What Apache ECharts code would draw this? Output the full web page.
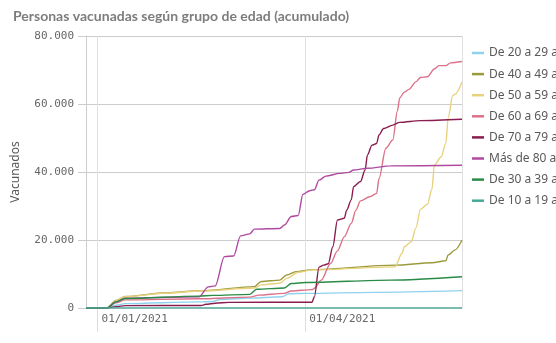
<!DOCTYPE html>
<html>
<head>
<meta charset="utf-8">
<script src="https://cdn.jsdelivr.net/npm/echarts@6/dist/echarts.min.js"></script>
<style>
html,body{margin:0;padding:0;background:#fff;}
#chart{width:556px;height:343px;}
</style>
</head>
<body>
<div id="chart"></div>
<script>
const titleText = 'Personas vacunadas según grupo de edad (acumulado)';
const yAxisName = 'Vacunados';
const categories = ['De 20 a 29 años','De 40 a 49 años','De 50 a 59 años','De 60 a 69 años','De 70 a 79 años','Más de 80 años','De 30 a 39 años','De 10 a 19 años'];
const colors = ['#8fd2ee','#9b9a3b','#e8d27e','#dc7289','#8a1d4f','#b04aa0','#298b46','#47a997'];

const edad20_29 = [['2020-12-27',0],['2021-01-05',0],['2021-01-09',800],['2021-01-13',1300],['2021-02-14',1800],['2021-02-20',1900],['2021-02-23',2500],['2021-03-08',2900],['2021-03-22',3300],['2021-03-25',4200],['2021-04-01',4300],['2021-05-01',4600],['2021-06-08',5100]];
const edad40_49 = [['2020-12-27',0],['2021-01-05',0],['2021-01-09',2200],['2021-01-13',3400],['2021-01-31',4500],['2021-02-15',5100],['2021-03-10',6300],['2021-03-13',7800],['2021-03-21',8200],['2021-03-24',9700],['2021-03-28',10700],['2021-04-04',11300],['2021-05-10',12600],['2021-05-26',13300],['2021-06-01',13900],['2021-06-02',15600],['2021-06-05',17100],['2021-06-08',20000]];
const edad50_59 = [['2020-12-27',0],['2021-01-05',0],['2021-01-09',2100],['2021-01-13',3300],['2021-01-31',4400],['2021-02-15',5000],['2021-03-10',5900],['2021-03-13',6800],['2021-03-21',7300],['2021-03-24',8700],['2021-03-29',10500],['2021-04-04',11200],['2021-05-10',12100],['2021-05-13',16100],['2021-05-14',18000],['2021-05-17',19500],['2021-05-19',23500],['2021-05-21',29000],['2021-05-24',30500],['2021-05-26',35000],['2021-05-27',42000],['2021-05-30',44500],['2021-06-01',48500],['2021-06-02',56000],['2021-06-04',62500],['2021-06-05',62900],['2021-06-08',66500]];
const edad60_69 = [['2020-12-27',0],['2021-01-05',0],['2021-01-09',1500],['2021-01-13',2400],['2021-02-14',2700],['2021-03-08',3200],['2021-03-12',3800],['2021-03-23',4300],['2021-03-26',5000],['2021-04-04',5400],['2021-04-05',5800],['2021-04-08',8200],['2021-04-12',13100],['2021-04-15',16800],['2021-04-18',21000],['2021-04-21',24900],['2021-04-23',28800],['2021-04-25',31500],['2021-04-29',32700],['2021-05-02',33700],['2021-05-03',38000],['2021-05-06',47000],['2021-05-09',49400],['2021-05-11',58000],['2021-05-12',61800],['2021-05-14',63500],['2021-05-16',64300],['2021-05-19',66500],['2021-05-21',67800],['2021-05-24',68000],['2021-05-27',70300],['2021-05-29',71300],['2021-06-01',71300],['2021-06-03',72100],['2021-06-08',72500]];
const edad70_79 = [['2020-12-27',0],['2021-01-05',0],['2021-01-09',400],['2021-01-13',700],['2021-02-15',750],['2021-02-17',1100],['2021-02-21',1400],['2021-02-27',1650],['2021-04-04',1700],['2021-04-05',3300],['2021-04-07',12000],['2021-04-09',12600],['2021-04-11',13000],['2021-04-13',18000],['2021-04-15',25900],['2021-04-18',26400],['2021-04-19',28800],['2021-04-21',31800],['2021-04-22',35700],['2021-04-25',37200],['2021-04-27',40600],['2021-04-28',45000],['2021-04-30',47900],['2021-05-02',48400],['2021-05-03',50900],['2021-05-05',52800],['2021-05-09',53800],['2021-05-12',54600],['2021-05-21',55100],['2021-06-08',55500]];
const edad80mas = [['2020-12-27',0],['2021-01-05',0],['2021-01-09',1800],['2021-01-13',2900],['2021-02-14',3300],['2021-02-18',6200],['2021-02-21',6500],['2021-02-25',15100],['2021-03-01',15300],['2021-03-04',21200],['2021-03-08',21800],['2021-03-10',23200],['2021-03-21',23400],['2021-03-23',24400],['2021-03-26',26900],['2021-03-29',27200],['2021-03-31',33400],['2021-04-03',34500],['2021-04-05',34800],['2021-04-07',37600],['2021-04-10',38800],['2021-04-16',39600],['2021-04-20',39900],['2021-04-22',40600],['2021-04-28',41100],['2021-05-08',41800],['2021-06-08',42000]];
const edad30_39 = [['2020-12-27',0],['2021-01-05',0],['2021-01-09',1800],['2021-01-13',2800],['2021-02-14',3500],['2021-02-20',3700],['2021-03-08',4000],['2021-03-11',5500],['2021-03-23',5900],['2021-03-26',7200],['2021-04-01',7500],['2021-05-08',8200],['2021-06-08',9200]];
const edad10_19 = [['2020-12-27',0],['2021-06-08',0]];

const seriesData = [edad20_29, edad40_49, edad50_59, edad60_69, edad70_79, edad80mas, edad30_39, edad10_19];
const xMin = '2020-12-27';
const xMax = '2021-06-08';
const yMax = 80000;
const yStep = 20000;
const DAY = 86400000;

const chart = echarts.init(document.getElementById('chart'), null, {renderer: 'canvas'});
const mono = 'DejaVu Sans Mono';
function pad(n){return (n<10?'0':'')+n;}
chart.setOption({
  animation: false,
  backgroundColor: '#fff',
  title: {
    text: titleText, left: 8, top: 4,
    textStyle: {fontFamily: 'Lato', fontSize: 14, fontWeight: 'bold', color: '#7d7d7d'}
  },
  legend: {
    orient: 'vertical', left: 467, top: 41,
    icon: 'rect', itemWidth: 12, itemHeight: 2.5, itemGap: 7.1, itemTextGap: 11,
    textStyle: {fontFamily: 'Noto Sans', fontSize: 12, color: '#595959', lineHeight: 14},
    data: categories
  },
  grid: {left: 86, right: 94, top: 36, bottom: 35, containLabel: false},
  xAxis: {
    type: 'time', min: xMin, max: xMax, splitNumber: 2, minInterval: 95 * DAY,
    axisLine: {show: true, lineStyle: {color: '#cccccc'}},
    axisTick: {show: true, length: 24, lineStyle: {color: '#dddddd'}},
    splitLine: {show: true, lineStyle: {color: '#e0e0e0'}},
    minorTick: {show: false},
    axisLabel: {
      align: 'left', margin: 6, padding: [0,0,0,4],
      fontFamily: mono, fontSize: 11, color: '#666',
      showMinLabel: false, showMaxLabel: false,
      formatter: function (v) { const d = new Date(v); return pad(d.getDate()) + '/' + pad(d.getMonth()+1) + '/' + d.getFullYear(); }
    }
  },
  yAxis: {
    type: 'value', min: 0, max: yMax, interval: yStep,
    name: yAxisName, nameLocation: 'middle', nameGap: 64,
    nameTextStyle: {fontFamily: 'Noto Sans', fontSize: 12, color: '#595959'},
    axisLine: {show: true, lineStyle: {color: '#cccccc'}},
    axisTick: {show: true, length: 8, lineStyle: {color: '#cccccc'}},
    splitLine: {show: true, lineStyle: {color: '#cccccc'}},
    axisLabel: {
      margin: 12, fontFamily: mono, fontSize: 11, color: '#666',
      formatter: function (v) { return String(v).replace(/\B(?=(\d{3})+(?!\d))/g, '.'); }
    }
  },
  series: categories.map(function (name, i) {
    return {
      name: name, type: 'line', data: seriesData[i], showSymbol: false, symbol: 'none',
      smooth: 0.3, smoothMonotone: 'x',
      lineStyle: {width: 1.4, color: colors[i]}, itemStyle: {color: colors[i]}
    };
  })
});
</script>
</body>
</html>
